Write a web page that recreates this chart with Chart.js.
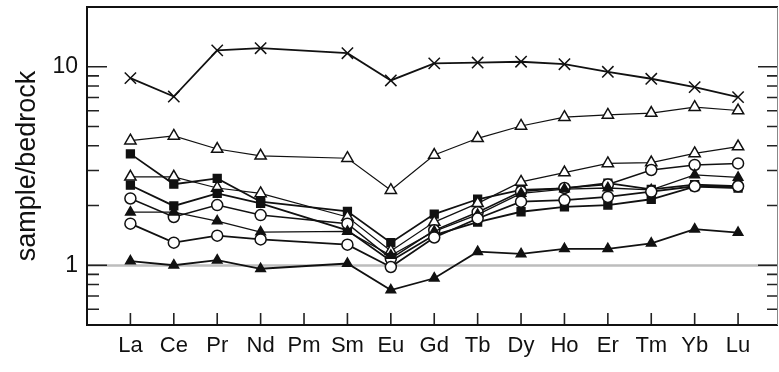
<!DOCTYPE html>
<html>
<head>
<meta charset="utf-8">
<script src="https://cdn.jsdelivr.net/npm/chart.js@4.4.0/dist/chart.umd.min.js"></script>
<style>
  html, body { margin: 0; padding: 0; background: #fff; overflow: hidden; }
  #wrap { width: 779px; height: 372px; position: relative; }
  canvas { display: block; }
</style>
</head>
<body>
<div id="wrap"><canvas id="ree"></canvas></div>
<script>
// REE pattern, normalised to bedrock (Pm has no value)
var cats = ['La','Ce','Pr','Nd','Pm','Sm','Eu','Gd','Tb','Dy','Ho','Er','Tm','Yb','Lu'];
var yMajor = [1, 10];
var yMinor = [0.6, 0.7, 0.8, 0.9, 2, 3, 4, 5, 6, 7, 8, 9];

var crossVals   = [8.77, 7.08, 12.1, 12.4, null, 11.7, 8.53, 10.4, 10.5, 10.6, 10.3, 9.43, 8.70, 7.90, 7.03];
var openTriHigh = [4.24, 4.48, 3.85, 3.56, null, 3.46, 2.39, 3.59, 4.36, 5.03, 5.57, 5.72, 5.84, 6.26, 6.02];
var squareHigh  = [3.64, 2.56, 2.74, 2.09, null, 1.87, 1.30, 1.81, 2.15, 2.40, 2.44, 2.59, 2.41, 2.55, 2.50];
var openTriLow  = [2.79, 2.79, 2.45, 2.30, null, 1.75, 1.18, 1.65, 2.05, 2.63, 2.93, 3.26, 3.29, 3.66, 3.96];
var squareLow   = [2.53, 1.99, 2.30, 2.05, null, 1.50, 1.05, 1.42, 1.65, 1.86, 1.97, 2.01, 2.15, 2.49, 2.45];
var circleHigh  = [2.17, 1.75, 2.01, 1.79, null, 1.62, 1.08, 1.50, 1.85, 2.35, 2.45, 2.55, 3.02, 3.20, 3.26];
var circleLow   = [1.62, 1.30, 1.41, 1.35, null, 1.27, 0.98, 1.38, 1.72, 2.09, 2.13, 2.21, 2.35, 2.50, 2.50];
var triHigh     = [1.85, 1.85, 1.67, 1.47, null, 1.48, 1.12, 1.48, 1.80, 2.30, 2.42, 2.45, 2.40, 2.85, 2.77];
var triLow      = [1.05, 1.00, 1.06, 0.96, null, 1.02, 0.75, 0.86, 1.17, 1.14, 1.21, 1.21, 1.29, 1.52, 1.46];

function pts(vals) {
  return vals.map(function(v, i) { return {x: i, y: v}; });
}

function series(vals, style, filled, r, lw) {
  return {
    data: pts(vals),
    borderColor: '#111',
    borderWidth: lw,
    pointStyle: style,
    pointRadius: r,
    pointBorderWidth: 1.5,
    pointBorderColor: '#111',
    pointBackgroundColor: filled ? '#111' : '#fff',
    spanGaps: true,
    tension: 0
  };
}

var frame = {
  id: 'frame',
  beforeDatasetsDraw: function(chart) {
    var ctx = chart.ctx, a = chart.chartArea, y = chart.scales.y;
    var p = Math.round(y.getPixelForValue(1)) + 0.5;
    ctx.save();
    ctx.strokeStyle = '#bdbdbd';
    ctx.lineWidth = 2.5;
    ctx.beginPath();
    ctx.moveTo(a.left, p);
    ctx.lineTo(a.right, p);
    ctx.stroke();
    ctx.restore();
  },
  afterDatasetsDraw: function(chart) {
    var ctx = chart.ctx, a = chart.chartArea, x = chart.scales.x, y = chart.scales.y;
    ctx.save();
    ctx.strokeStyle = '#222';
    ctx.lineWidth = 1.6;
    ctx.beginPath();
    yMajor.forEach(function(v) {
      var p = y.getPixelForValue(v);
      ctx.moveTo(a.left, p); ctx.lineTo(a.left + 20, p);
      ctx.moveTo(a.right, p); ctx.lineTo(a.right - 20, p);
    });
    yMinor.forEach(function(v) {
      var p = y.getPixelForValue(v);
      ctx.moveTo(a.left, p); ctx.lineTo(a.left + 12, p);
      ctx.moveTo(a.right, p); ctx.lineTo(a.right - 11, p);
    });
    cats.forEach(function(c, i) {
      var p = x.getPixelForValue(i);
      ctx.moveTo(p, a.bottom); ctx.lineTo(p, a.bottom - 12);
    });
    ctx.stroke();
    // box
    ctx.lineWidth = 2;
    ctx.strokeStyle = '#111';
    ctx.beginPath();
    ctx.moveTo(a.right, a.top); ctx.lineTo(a.left, a.top);
    ctx.lineTo(a.left, a.bottom); ctx.lineTo(a.right, a.bottom);
    ctx.stroke();
    ctx.lineWidth = 1;
    ctx.strokeStyle = '#888';
    ctx.beginPath();
    ctx.moveTo(a.right - 0.5, a.top); ctx.lineTo(a.right - 0.5, a.bottom);
    ctx.stroke();
    ctx.restore();
  }
};

new Chart(document.getElementById('ree'), {
  type: 'line',
  data: {
    datasets: [
      series(triLow, 'triangle', true, 5.5, 1.8),
      series(circleLow, 'circle', false, 5.5, 1.8),
      series(triHigh, 'triangle', true, 5.5, 1.3),
      series(circleHigh, 'circle', false, 5.5, 1.5),
      series(squareLow, 'rect', true, 5.5, 1.8),
      series(openTriLow, 'triangle', false, 6.5, 1.2),
      series(squareHigh, 'rect', true, 5.5, 1.8),
      series(openTriHigh, 'triangle', false, 6.5, 1.2),
      series(crossVals, 'crossRot', false, 8, 1.8)
    ]
  },
  options: {
    responsive: true,
    maintainAspectRatio: false,
    animation: false,
    layout: { autoPadding: false, padding: { top: 7, right: 1, left: 0, bottom: 0 } },
    plugins: { legend: { display: false }, tooltip: { enabled: false } },
    scales: {
      x: {
        type: 'linear',
        min: -1,
        max: 14.92,
        grid: { display: false, drawTicks: false },
        border: { display: false },
        afterBuildTicks: function(s) {
          s.ticks = cats.map(function(c, i) { return {value: i}; });
        },
        afterFit: function(s) {
          s.height = 47;
          s.paddingLeft = 0;
          s.paddingRight = 0;
        },
        ticks: {
          autoSkip: false,
          maxRotation: 0,
          padding: 8,
          color: '#111',
          font: { family: 'Liberation Sans, Arial, sans-serif', size: 22 },
          callback: function(v) { return cats[v]; }
        }
      },
      y: {
        type: 'logarithmic',
        min: 0.5,
        max: 20,
        grid: { display: false, drawTicks: false },
        border: { display: false },
        afterBuildTicks: function(s) {
          s.ticks = yMajor.map(function(v) { return {value: v}; });
        },
        afterFit: function(s) {
          s.width = 87;
          s.paddingTop = 0;
          s.paddingBottom = 0;
        },
        ticks: {
          padding: 9,
          color: '#111',
          font: { family: 'Liberation Sans, Arial, sans-serif', size: 23 },
          callback: function(v) { return String(v); }
        },
        title: {
          display: true,
          text: 'sample/bedrock',
          color: '#111',
          padding: { top: 11, bottom: 0 },
          font: { family: 'Liberation Sans, Arial, sans-serif', size: 27 }
        }
      }
    }
  },
  plugins: [frame]
});
</script>
</body>
</html>
